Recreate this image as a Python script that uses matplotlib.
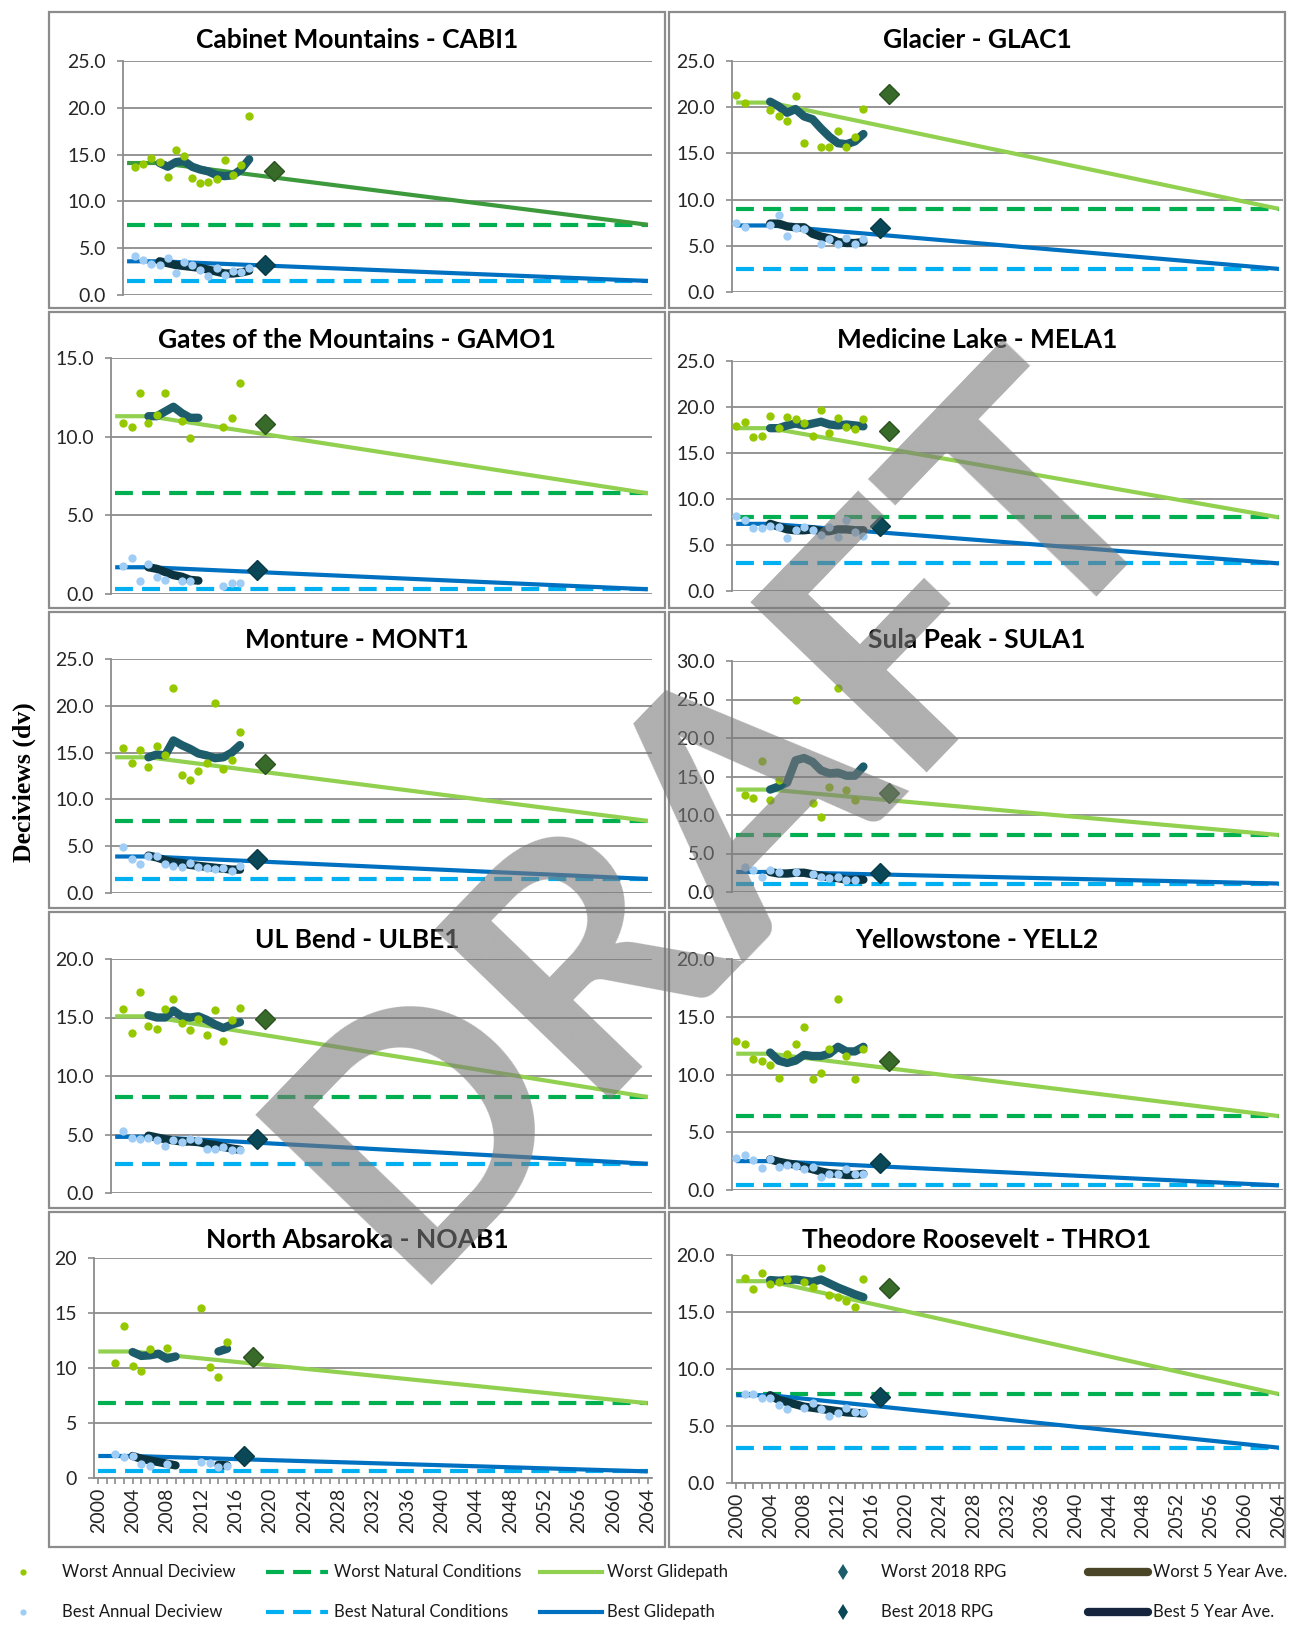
import numpy as np
import matplotlib
matplotlib.use('Agg')
import matplotlib.pyplot as plt
from matplotlib.lines import Line2D
from matplotlib.patches import Rectangle
from matplotlib.ticker import MultipleLocator, FormatStrFormatter

W, H = 1294, 1625
nan = np.nan

# x categories
YEARS = list(range(2000, 2016))          # annual deciview years
AVG_YEARS = list(range(2004, 2016))      # 5-year average years
GLIDE_YEARS = [2000, 2004, 2064]         # baseline, baseline end, 2064 endpoint
END_YEARS = [2000, 2064]
WORST_RPG_YEAR = 2018
BEST_RPG_YEAR = 2017

# ---- Cabinet Mountains - CABI1
cabi_worst = [nan, 13.7, 14.0, 14.6, 14.2, 12.6, 15.5, 14.8, 12.5, 12.0, 12.1, 12.4, 14.4, 12.8, 13.9, 19.1]
cabi_best = [nan, 4.2, 3.7, 3.3, 3.2, 4.0, 2.3, 3.5, 3.2, 2.7, 2.0, 2.9, 2.1, 2.6, 2.5, 2.9]
cabi_worst5 = [14.1, 13.7, 14.2, 14.3, 13.7, 13.4, 13.2, 12.8, 12.7, 12.8, 13.4, 14.5]
cabi_best5 = [3.6, 3.4, 3.2, 3.1, 3.0, 2.9, 2.7, 2.5, 2.3, 2.3, 2.4, 2.6]
cabi_glide_worst = [14.1, 14.1, 7.5]
cabi_glide_best = [3.6, 3.6, 1.5]
cabi_natural = [7.5, 1.5]
cabi_rpg = [13.3, 3.2]

# ---- Glacier - GLAC1
glac_worst = [21.3, 20.5, nan, nan, 19.7, 19.1, 18.5, 21.2, 16.1, nan, 15.7, 15.7, 17.4, 15.7, 16.8, 19.8]
glac_best = [7.5, 7.0, nan, nan, 7.2, 8.3, 6.1, 6.9, 6.8, nan, 5.2, 5.7, 5.2, 5.8, 5.2, 5.7]
glac_worst5 = [20.6, 20.1, 19.4, 19.8, 19.0, 18.7, 17.7, 16.8, 16.1, 16.0, 16.3, 17.1]
glac_best5 = [7.4, 7.4, 7.1, 7.0, 7.0, 6.3, 6.0, 5.8, 5.4, 5.3, 5.3, 5.4]
glac_glide_worst = [20.5, 20.5, 9.0]
glac_glide_best = [7.2, 7.2, 2.5]
glac_natural = [9.0, 2.5]
glac_rpg = [21.4, 6.9]

# ---- Gates of the Mountains - GAMO1
gamo_worst = [nan, 10.9, 10.6, 12.8, 10.9, 11.4, 12.8, nan, 11.0, 9.9, nan, nan, nan, 10.6, 11.2, 13.4]
gamo_best = [nan, 1.8, 2.3, 0.8, 1.9, 1.1, 0.9, nan, 0.8, 0.8, nan, nan, nan, 0.5, 0.7, 0.7]
gamo_worst5 = [11.3, 11.3, 11.6, 11.9, 11.5, 11.2, 11.2, nan, nan, nan, nan, nan]
gamo_best5 = [1.7, 1.6, 1.4, 1.2, 1.1, 0.9, 0.85, nan, nan, nan, nan, nan]
gamo_glide_worst = [11.3, 11.3, 6.4]
gamo_glide_best = [1.7, 1.7, 0.3]
gamo_natural = [6.4, 0.3]
gamo_rpg = [10.8, 1.5]

# ---- Medicine Lake - MELA1
mela_worst = [17.9, 18.4, 16.7, 16.9, 19.0, 17.7, 18.9, 18.7, 18.3, 16.8, 19.7, 17.2, 18.8, 17.8, 17.6, 18.7]
mela_best = [8.1, 7.7, 6.9, 6.9, 7.1, 7.0, 5.8, 6.6, 7.0, 6.6, 6.1, 7.0, 5.9, 7.7, 6.4, 6.0]
mela_worst5 = [17.7, 17.7, 18.0, 18.2, 18.0, 18.2, 18.4, 18.1, 18.0, 18.1, 18.0, 17.9]
mela_best5 = [7.3, 7.0, 6.7, 6.6, 6.6, 6.7, 6.5, 6.5, 6.7, 6.7, 6.6, 6.6]
mela_glide_worst = [17.7, 17.7, 8.0]
mela_glide_best = [7.3, 7.3, 3.0]
mela_natural = [8.0, 3.0]
mela_rpg = [17.4, 7.1]

# ---- Monture - MONT1
mont_worst = [nan, 15.5, 13.9, 15.3, 13.5, 15.7, 14.7, 21.9, 12.6, 12.1, 13.0, 13.9, 20.3, 13.2, 14.2, 17.2]
mont_best = [nan, 4.9, 3.6, 3.1, 4.0, 3.9, 3.1, 2.9, 2.8, 3.2, 2.8, 2.7, 2.6, 2.7, 2.4, 2.9]
mont_worst5 = [14.5, 14.8, 14.7, 16.3, 15.8, 15.4, 14.9, 14.7, 14.4, 14.5, 15.0, 15.8]
mont_best5 = [4.0, 3.8, 3.5, 3.3, 3.2, 3.0, 2.9, 2.8, 2.7, 2.6, 2.5, 2.5]
mont_glide_worst = [14.5, 14.5, 7.7]
mont_glide_best = [3.9, 3.9, 1.5]
mont_natural = [7.7, 1.5]
mont_rpg = [13.8, 3.6]

# ---- Sula Peak - SULA1
sula_worst = [nan, 12.6, 12.2, 17.0, 12.0, 14.6, nan, 25.0, nan, 11.6, 9.7, 13.6, 26.5, 13.2, 11.9, nan]
sula_best = [nan, 3.2, 2.8, 1.9, 2.8, 2.6, nan, 2.6, nan, 2.3, 1.9, 1.8, 2.0, 1.6, 1.5, nan]
sula_worst5 = [13.3, 13.7, 14.2, 17.1, 17.4, 16.9, 15.8, 15.4, 15.5, 15.1, 15.1, 16.3]
sula_best5 = [2.6, 2.4, 2.4, 2.5, 2.5, 2.3, 2.1, 1.9, 1.8, 1.6, 1.6, 1.6]
sula_glide_worst = [13.3, 13.3, 7.4]
sula_glide_best = [2.6, 2.6, 1.1]
sula_natural = [7.4, 1.1]
sula_rpg = [12.9, 2.5]

# ---- UL Bend - ULBE1
ulbe_worst = [nan, 15.7, 13.7, 17.2, 14.3, 14.0, 15.7, 16.6, 14.5, 13.9, 14.9, 13.5, 15.6, 13.0, 14.8, 15.8]
ulbe_best = [nan, 5.3, 4.7, 4.6, 4.7, 4.5, 4.0, 4.5, 4.35, 4.6, 4.5, 3.8, 3.8, 3.9, 3.7, 3.7]
ulbe_worst5 = [15.2, 15.0, 15.0, 15.6, 15.1, 15.0, 15.1, 14.8, 14.4, 14.1, 14.4, 14.6]
ulbe_best5 = [4.9, 4.75, 4.6, 4.5, 4.4, 4.4, 4.35, 4.2, 4.1, 3.95, 3.8, 3.7]
ulbe_glide_worst = [15.1, 15.1, 8.2]
ulbe_glide_best = [4.8, 4.8, 2.5]
ulbe_natural = [8.2, 2.5]
ulbe_rpg = [14.9, 4.6]

# ---- Yellowstone - YELL2
yell_worst = [12.9, 12.6, 11.3, 11.2, 10.8, 9.7, 11.8, 12.6, 14.1, 9.6, 10.1, 12.2, 16.5, 11.6, 9.6, 12.2]
yell_best = [2.8, 3.0, 2.6, 1.9, 2.7, 2.0, 2.2, 2.1, 1.8, 2.0, 1.1, 1.4, 1.4, 1.8, 1.4, 1.4]
yell_worst5 = [11.9, 11.2, 11.0, 11.2, 11.7, 11.6, 11.6, 11.8, 12.4, 12.0, 12.0, 12.4]
yell_best5 = [2.65, 2.45, 2.3, 2.2, 2.0, 1.8, 1.6, 1.45, 1.4, 1.3, 1.3, 1.4]
yell_glide_worst = [11.8, 11.8, 6.4]
yell_glide_best = [2.5, 2.5, 0.4]
yell_natural = [6.4, 0.4]
yell_rpg = [11.2, 2.3]

# ---- North Absaroka - NOAB1
noab_worst = [nan, nan, 10.5, 13.8, 10.2, 9.7, 11.7, nan, 11.8, nan, nan, nan, 15.5, 10.1, 9.2, 12.4]
noab_best = [nan, nan, 2.2, 1.9, 2.0, 1.25, 1.1, nan, 1.3, nan, nan, nan, 1.45, 1.35, 1.0, 1.05]
noab_worst5 = [11.45, 11.1, 11.15, 11.3, 10.85, 11.05, nan, nan, nan, nan, 11.5, 11.75]
noab_best5 = [2.0, 1.75, 1.6, 1.45, 1.3, 1.15, nan, nan, nan, nan, 1.2, 1.15]
noab_glide_worst = [11.5, 11.5, 6.8]
noab_glide_best = [2.0, 2.0, 0.6]
noab_natural = [6.8, 0.6]
noab_rpg = [11.0, 2.0]

# ---- Theodore Roosevelt - THRO1
thro_worst = [nan, 18.0, 17.0, 18.45, 17.5, 17.65, 17.9, nan, 17.65, 17.15, 18.9, 16.45, 16.3, 16.0, 15.4, 17.9]
thro_best = [nan, 7.85, 7.85, 7.5, 7.5, 6.8, 6.5, nan, 6.6, 7.05, 6.5, 5.85, 6.15, 6.6, 6.2, 6.2]
thro_worst5 = [17.8, 17.75, 17.8, 17.85, 17.75, 17.65, 17.85, 17.5, 17.15, 16.85, 16.55, 16.3]
thro_best5 = [7.7, 7.3, 7.1, 6.9, 6.7, 6.6, 6.5, 6.4, 6.3, 6.2, 6.15, 6.1]
thro_glide_worst = [17.7, 17.7, 7.8]
thro_glide_best = [7.7, 7.7, 3.1]
thro_natural = [7.8, 3.1]
thro_rpg = [17.1, 7.55]

# title, data, y max, (axes px: left, right, top, bottom), (box px: x0, x1, y0, y1)
SITES = [
    ('Cabinet Mountains - CABI1', (cabi_worst, cabi_best, cabi_worst5, cabi_best5, cabi_glide_worst, cabi_glide_best, cabi_natural, cabi_rpg), 25,
     (123, 652, 61, 295), (49, 665, 12, 308)),
    ('Glacier - GLAC1', (glac_worst, glac_best, glac_worst5, glac_best5, glac_glide_worst, glac_glide_best, glac_natural, glac_rpg), 25,
     (732, 1283, 61, 292), (669, 1285, 12, 308)),
    ('Gates of the Mountains - GAMO1', (gamo_worst, gamo_best, gamo_worst5, gamo_best5, gamo_glide_worst, gamo_glide_best, gamo_natural, gamo_rpg), 15,
     (111, 652, 358, 594), (49, 665, 312, 608)),
    ('Medicine Lake - MELA1', (mela_worst, mela_best, mela_worst5, mela_best5, mela_glide_worst, mela_glide_best, mela_natural, mela_rpg), 25,
     (732, 1283, 361, 591), (669, 1285, 312, 608)),
    ('Monture - MONT1', (mont_worst, mont_best, mont_worst5, mont_best5, mont_glide_worst, mont_glide_best, mont_natural, mont_rpg), 25,
     (111, 652, 659, 893), (49, 665, 612, 908)),
    ('Sula Peak - SULA1', (sula_worst, sula_best, sula_worst5, sula_best5, sula_glide_worst, sula_glide_best, sula_natural, sula_rpg), 30,
     (732, 1283, 661, 892), (669, 1285, 612, 908)),
    ('UL Bend - ULBE1', (ulbe_worst, ulbe_best, ulbe_worst5, ulbe_best5, ulbe_glide_worst, ulbe_glide_best, ulbe_natural, ulbe_rpg), 20,
     (111, 652, 959, 1193), (49, 665, 912, 1208)),
    ('Yellowstone - YELL2', (yell_worst, yell_best, yell_worst5, yell_best5, yell_glide_worst, yell_glide_best, yell_natural, yell_rpg), 20,
     (732, 1283, 959, 1190), (669, 1285, 912, 1208)),
    ('North Absaroka - NOAB1', (noab_worst, noab_best, noab_worst5, noab_best5, noab_glide_worst, noab_glide_best, noab_natural, noab_rpg), 20,
     (94, 652, 1258, 1478), (49, 665, 1212, 1547)),
    ('Theodore Roosevelt - THRO1', (thro_worst, thro_best, thro_worst5, thro_best5, thro_glide_worst, thro_glide_best, thro_natural, thro_rpg), 20,
     (732, 1283, 1255, 1483), (669, 1285, 1212, 1547)),
]

C_WORST_PT = '#96c800'
C_BEST_PT = '#a0cdf5'
C_WORST_NAT = '#00b050'
C_BEST_NAT = '#00b0f0'
C_WORST_GLIDE = '#92d050'
C_BEST_GLIDE = '#0070c0'
C_WORST_AVG = '#1d5c6a'
C_BEST_AVG = '#0b3440'
C_WORST_RPG = '#386a2a'
C_BEST_RPG = '#0b4857'
C_GRID = '#8c8c8c'
FONT = 'Lato'
DASH = (0, (4.3, 2.2))

plt.rcParams['font.family'] = [FONT, 'DejaVu Sans']

fig = plt.figure(figsize=(W / 100, H / 100), dpi=100)


def px_box(x0, x1, y0, y1):
    return [x0 / W, 1 - y1 / H, (x1 - x0) / W, (y1 - y0) / H]


def draw_site(i, title, data, ymax, apx, bpx):
    worst, best, worst5, best5, g_worst, g_best, natural, rpg = data
    bottom_row = i >= 8

    x0, x1, y0, y1 = bpx
    fig.add_artist(Rectangle((x0 / W, 1 - y1 / H), (x1 - x0) / W, (y1 - y0) / H,
                             transform=fig.transFigure, fill=False, ec=C_GRID, lw=1.6))
    fig.text((x0 + x1) / 2 / W, 1 - (y0 + 28) / H, title, ha='center', va='center',
             fontsize=19, fontweight='bold', color='black')

    ax = fig.add_axes(px_box(apx[0], apx[1], apx[2], apx[3]))
    ax.set_xlim(1999.5, 2064.5)
    ax.set_ylim(0, ymax)

    # natural conditions
    ax.plot(END_YEARS, [natural[0]] * 2, color=C_WORST_NAT, lw=3, ls=DASH, zorder=2)
    ax.plot(END_YEARS, [natural[1]] * 2, color=C_BEST_NAT, lw=3, ls=DASH, zorder=2)
    # glidepaths
    gcol = '#3c9a3c' if i == 0 else C_WORST_GLIDE
    ax.plot(GLIDE_YEARS, g_worst, color=gcol, lw=3, zorder=3, solid_capstyle='butt')
    ax.plot(GLIDE_YEARS, g_best, color=C_BEST_GLIDE, lw=3, zorder=3, solid_capstyle='butt')
    # 5 year averages
    ax.plot(AVG_YEARS, worst5, color=C_WORST_AVG, lw=6, zorder=4,
            solid_capstyle='round', solid_joinstyle='round')
    ax.plot(AVG_YEARS, best5, color=C_BEST_AVG, lw=6, zorder=4,
            solid_capstyle='round', solid_joinstyle='round')
    # annual deciviews
    ax.plot(YEARS, worst, ls='none', marker='o', ms=6, mew=0, color=C_WORST_PT, zorder=5)
    ax.plot(YEARS, best, ls='none', marker='o', ms=6, mew=0, color=C_BEST_PT, zorder=5)
    # 2018 RPG
    ax.plot([WORST_RPG_YEAR], [rpg[0]], ls='none', marker='D', ms=10.5, color=C_WORST_RPG,
            mec='#2b5220', mew=1, zorder=6)
    ax.plot([BEST_RPG_YEAR], [rpg[1]], ls='none', marker='D', ms=10.5, color=C_BEST_RPG,
            mec='#083a46', mew=1, zorder=6)

    ax.yaxis.set_major_locator(MultipleLocator(5))
    if i == 8:
        ax.yaxis.set_major_formatter(FormatStrFormatter('%d'))
    else:
        ax.yaxis.set_major_formatter(FormatStrFormatter('%.1f'))
    ax.grid(axis='y', color=C_GRID, lw=1.3)
    ax.set_axisbelow(True)
    for side in ('top', 'right'):
        ax.spines[side].set_visible(False)
    ax.spines['left'].set_color(C_GRID)
    ax.spines['left'].set_linewidth(1.3)
    ax.spines['bottom'].set_color(C_GRID)
    ax.spines['bottom'].set_linewidth(1.3)
    ax.tick_params(axis='y', direction='out', length=4.3, width=1.2, color=C_GRID,
                   labelsize=14, labelcolor='#262626', pad=8)
    if bottom_row:
        ax.set_xticks(range(2000, 2065, 4))
        ax.set_xticks(range(2000, 2065), minor=True)
        ax.tick_params(axis='x', which='both', direction='out', length=4, width=1.2,
                       color=C_GRID, labelsize=14, labelcolor='#262626', rotation=90, pad=3)
    else:
        ax.spines['bottom'].set_visible(False)
        ax.tick_params(axis='x', which='both', bottom=False, labelbottom=False)


for i, (title, data, ymax, apx, bpx) in enumerate(SITES):
    draw_site(i, title, data, ymax, apx, bpx)

fig.text(24 / W, 1 - 782 / H, 'Deciviews (dv)', rotation=90, ha='center', va='center',
         fontsize=18.5, fontweight='bold', family=['Liberation Serif', 'DejaVu Serif'])

# legend, two rows of five entries
LEG_ROWS = [1572, 1612]
legend_items = [
    # (row, handle x0, handle x1, text x, style, label)
    (0, 23, 23, 62, dict(ls='none', marker='o', ms=4.5, mew=0, color=C_WORST_PT), 'Worst Annual Deciview'),
    (1, 23, 23, 62, dict(ls='none', marker='o', ms=4.5, mew=0, color=C_BEST_PT), 'Best Annual Deciview'),
    (0, 266, 328, 334, dict(lw=3, ls=DASH, color=C_WORST_NAT), 'Worst Natural Conditions'),
    (1, 266, 328, 334, dict(lw=3, ls=DASH, color=C_BEST_NAT), 'Best Natural Conditions'),
    (0, 540, 602, 607, dict(lw=3, color=C_WORST_GLIDE), 'Worst Glidepath'),
    (1, 540, 602, 607, dict(lw=3, color=C_BEST_GLIDE), 'Best Glidepath'),
    (0, 843, 843, 881, dict(ls='none', marker='d', ms=8, mew=0, color=C_WORST_AVG), 'Worst 2018 RPG'),
    (1, 843, 843, 881, dict(ls='none', marker='d', ms=8, mew=0, color=C_BEST_RPG), 'Best 2018 RPG'),
    (0, 1088, 1148, 1153, dict(lw=6, color='#4a4526', solid_capstyle='round'), 'Worst 5 Year Ave.'),
    (1, 1088, 1148, 1153, dict(lw=6, color='#16253d', solid_capstyle='round'), 'Best 5 Year Ave.'),
]
for row, hx0, hx1, tx, style, label in legend_items:
    yy = 1 - LEG_ROWS[row] / H
    if hx0 == hx1:
        fig.add_artist(Line2D([hx0 / W], [yy], transform=fig.transFigure, **style))
    else:
        fig.add_artist(Line2D([hx0 / W, hx1 / W], [yy, yy], transform=fig.transFigure, **style))
    fig.text(tx / W, yy, label, ha='left', va='center', fontsize=12, color='#1a1a1a')

# watermark
fig.text(0.556, 0.497, 'DRAFT', rotation=46, rotation_mode='anchor', ha='center', va='center',
         fontsize=245, fontweight='bold', color='#7a7a7a', alpha=0.6, zorder=20)

fig.savefig('out.png', dpi=100)
